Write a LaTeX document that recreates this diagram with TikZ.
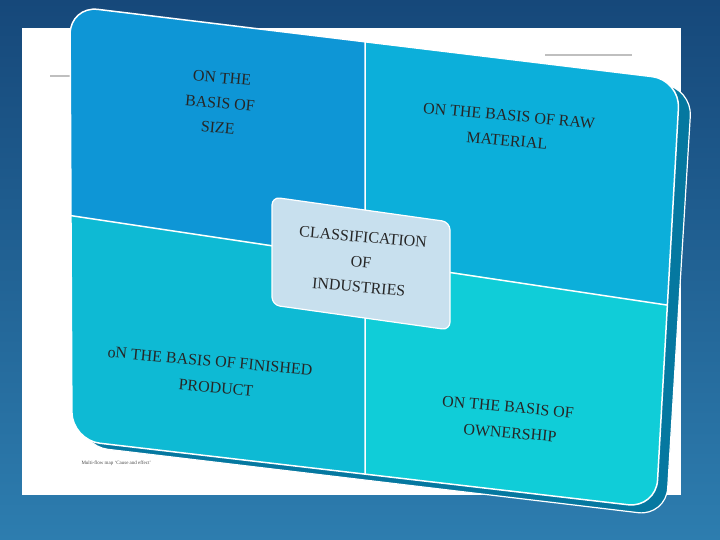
\documentclass[tikz,border=0pt]{standalone}
\usepackage{fontspec}
\setmainfont{Liberation Serif}
\begin{document}
\begin{tikzpicture}[x=1pt,y=-1pt,
  lbl/.style={text=black!85,font=\fontsize{16}{25}\selectfont,align=center,rotate=-5,inner sep=0pt}]
\useasboundingbox (0,0) rectangle (720,540);
\shade[top color={rgb,255:red,22;green,72;blue,122},bottom color={rgb,255:red,45;green,125;blue,175}] (0,0) rectangle (720,540);
\fill[white] (22,28) rectangle (681,495);
\draw[gray!50,line width=1.5pt] (50,76) -- (75,76) (545,55) -- (632,55);
\node[anchor=west,font=\fontsize{5}{6}\selectfont,text=black!70] (cap) at (78,463) {Multi-flow map `Cause and effect'};
% 3D back
\fill[rounded corners=28,color={rgb,255:red,5;green,120;blue,160}] (80,12) -- (692,88) -- (666,516) -- (80,446) -- cycle;
\draw[white,line width=1.2pt,rounded corners=28] (80,12) -- (692,88) -- (666,516) -- (80,446) -- cycle;
% front
\begin{scope}
\clip[rounded corners=28] (70,6) -- (680,80) -- (656,508) -- (72,440) -- cycle;
\fill[color={rgb,255:red,14;green,150;blue,214}] (60,0) -- (365,38) -- (365,258) -- (60,214) -- cycle;
\fill[color={rgb,255:red,12;green,175;blue,218}] (365,38) -- (700,80) -- (700,310) -- (365,258) -- cycle;
\fill[color={rgb,255:red,14;green,186;blue,212}] (60,214) -- (365,258) -- (365,520) -- (60,520) -- cycle;
\fill[color={rgb,255:red,16;green,205;blue,216}] (365,258) -- (700,310) -- (700,520) -- (365,520) -- cycle;
\draw[white,line width=1.5pt] (365,30) -- (365,520) (60,214) -- (700,310);
\end{scope}
\draw[white,line width=1.5pt,rounded corners=28] (70,6) -- (680,80) -- (656,508) -- (72,440) -- cycle;
% center box
\filldraw[fill={rgb,255:red,200;green,224;blue,238},draw=white,line width=1.2pt,rounded corners=8] (272,197) -- (450,222) -- (450,330) -- (272,305) -- cycle;
\node[lbl] (c) at (361,262) {CLASSIFICATION\\OF\\INDUSTRIES};
\node[lbl] (tl) at (220,103) {ON THE\\BASIS  OF\\SIZE};
\node[lbl] (tr) at (508,128) {ON THE BASIS OF RAW\\MATERIAL};
\node[lbl] (bl1) at (210,361) {oN THE BASIS OF FINISHED};
\node[lbl] (bl2) at (216,388) {PRODUCT};
\node[lbl] (br1) at (508,407) {ON THE BASIS  OF};
\node[lbl] (br2) at (510,433) {OWNERSHIP};
\end{tikzpicture}
\end{document}
